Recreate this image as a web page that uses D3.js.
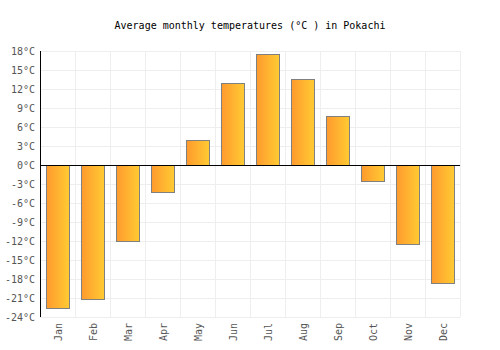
<!DOCTYPE html>
<html>
<head>
<meta charset="utf-8">
<script src="https://cdn.jsdelivr.net/npm/d3@7"></script>
<style>
  body { margin: 0; background: #fff; }
  text { font-family: "DejaVu Sans Mono", monospace; }
</style>
</head>
<body>
<div id="chart"></div>
<script>
const months = ["Jan","Feb","Mar","Apr","May","Jun","Jul","Aug","Sep","Oct","Nov","Dec"];
const temps = [-22.6, -21.2, -12.0, -4.3, 3.9, 12.9, 17.5, 13.5, 7.7, -2.6, -12.5, -18.7];
const yTicks = [18, 15, 12, 9, 6, 3, 0, -3, -6, -9, -12, -15, -18, -21, -24];

const width = 500, height = 350;
const margin = {top: 51, right: 40, bottom: 33, left: 40};

const svg = d3.select("#chart").append("svg")
    .attr("width", width)
    .attr("height", height);

// gradient for the bars
const grad = svg.append("defs").append("linearGradient")
    .attr("id", "barGrad")
    .attr("x1", "0%").attr("x2", "100%").attr("y1", "0%").attr("y2", "0%");
grad.append("stop").attr("offset", "0%").attr("stop-color", "#ff9a2e");
grad.append("stop").attr("offset", "100%").attr("stop-color", "#ffcb33");

const x = d3.scaleBand()
    .domain(months)
    .range([margin.left, width - margin.right])
    .paddingInner(0.34)
    .paddingOuter(0.17);

const y = d3.scaleLinear()
    .domain([-24, 18])
    .range([height - margin.bottom, margin.top]);

// title
svg.append("text")
    .attr("x", width / 2)
    .attr("y", 29)
    .attr("text-anchor", "middle")
    .attr("font-size", "10px")
    .attr("fill", "#000")
    .text("Average monthly temperatures (°C ) in Pokachi");

// grid
const grid = svg.append("g");
grid.selectAll(".hgrid")
    .data(yTicks)
    .enter().append("line")
    .attr("x1", margin.left)
    .attr("x2", width - margin.right)
    .attr("y1", d => Math.round(y(d)) + 0.5)
    .attr("y2", d => Math.round(y(d)) + 0.5)
    .attr("stroke", "#eeeeee");

grid.selectAll(".vgrid")
    .data(d3.range(months.length + 1))
    .enter().append("line")
    .attr("x1", i => Math.round(margin.left + i * (width - margin.left - margin.right) / months.length) + 0.5)
    .attr("x2", i => Math.round(margin.left + i * (width - margin.left - margin.right) / months.length) + 0.5)
    .attr("y1", y(18))
    .attr("y2", y(-24))
    .attr("stroke", "#eeeeee");

// bars
svg.selectAll(".bar")
    .data(temps)
    .enter().append("rect")
    .attr("class", "bar")
    .attr("x", (d, i) => Math.round(x(months[i])) + 0.5)
    .attr("width", Math.round(x.bandwidth()))
    .attr("y", d => Math.round(y(Math.max(0, d))) + 0.5)
    .attr("height", d => Math.abs(Math.round(y(d)) - Math.round(y(0))))
    .attr("fill", "url(#barGrad)")
    .attr("stroke", "#808080")
    .attr("stroke-width", 1);

// y axis labels
svg.selectAll(".ylab")
    .data(yTicks)
    .enter().append("text")
    .attr("x", margin.left - 5)
    .attr("y", d => y(d) + 4)
    .attr("text-anchor", "end")
    .attr("font-size", "10px")
    .attr("fill", "#555")
    .text(d => d + "°C");

// x axis labels
svg.selectAll(".xlab")
    .data(months)
    .enter().append("text")
    .attr("transform", d => `translate(${x(d) + x.bandwidth() / 2 + 4},${y(-24) + 6}) rotate(-90)`)
    .attr("text-anchor", "end")
    .attr("font-size", "10px")
    .attr("fill", "#555")
    .text(d => d);

// axis lines
svg.append("line")
    .attr("x1", margin.left + 0.5).attr("x2", margin.left + 0.5)
    .attr("y1", y(18)).attr("y2", y(-24))
    .attr("stroke", "#000");
svg.append("line")
    .attr("x1", margin.left).attr("x2", width - margin.right)
    .attr("y1", Math.round(y(0)) + 0.5).attr("y2", Math.round(y(0)) + 0.5)
    .attr("stroke", "#000");
</script>
</body>
</html>
